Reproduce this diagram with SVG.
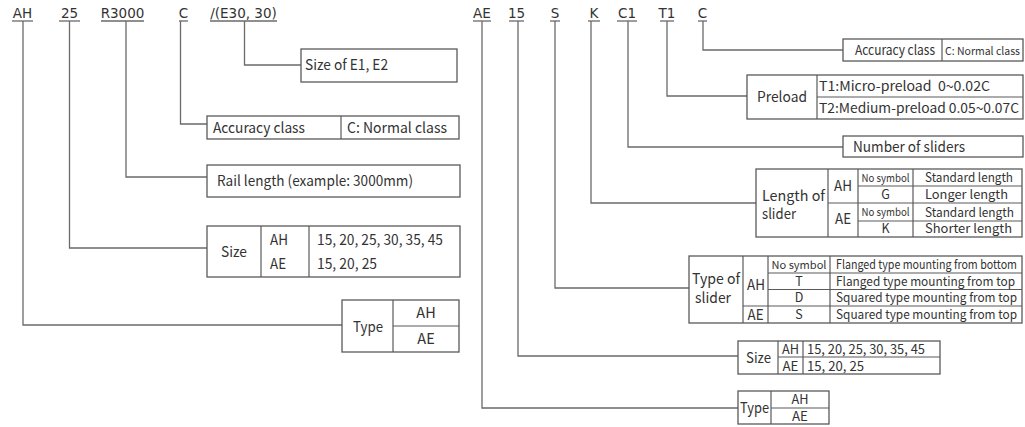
<svg xmlns="http://www.w3.org/2000/svg" width="1025" height="427" viewBox="0 0 1025 427">
<style>
.bg{fill:#ffffff}
.lbl{font-family:"DejaVu Sans",sans-serif;font-size:13.5px;fill:#333333;text-anchor:middle}
.ul{stroke:#6a6a6a;stroke-width:1.3}
.con{fill:none;stroke:#6a6a6a;stroke-width:1.3}
.box{fill:#ffffff;stroke:#5a5a5a;stroke-width:1.3}
.ln{stroke:#5a5a5a;stroke-width:1.2}
.t{font-family:"Noto Sans CJK SC","Noto Sans",sans-serif;font-size:14.5px;fill:#333333}
.r{font-family:"Noto Sans CJK SC","Noto Sans",sans-serif;font-size:13.5px;fill:#333333}
.s{font-family:"Noto Sans CJK SC","Noto Sans",sans-serif;font-size:12.5px;fill:#333333}
.xs{font-family:"Noto Sans CJK SC","Noto Sans",sans-serif;font-size:11px;fill:#333333}
.m{text-anchor:middle}
</style>
<rect class="bg" x="0" y="0" width="1025" height="427"/>

<g id="labels">
<text class="lbl" x="22.5" y="18">AH</text><line class="ul" x1="12" y1="21" x2="33" y2="21"/>
<text class="lbl" x="69.5" y="18">25</text><line class="ul" x1="59" y1="21" x2="80" y2="21"/>
<text class="lbl" x="122.5" y="18">R3000</text><line class="ul" x1="101" y1="21" x2="144" y2="21"/>
<text class="lbl" x="183.5" y="18">C</text><line class="ul" x1="179" y1="21" x2="188" y2="21"/>
<text class="lbl" x="243.5" y="18">/(E30, 30)</text><line class="ul" x1="210" y1="21" x2="277" y2="21"/>
<text class="lbl" x="482" y="18">AE</text><line class="ul" x1="473" y1="21" x2="491" y2="21"/>
<text class="lbl" x="516.5" y="18">15</text><line class="ul" x1="509" y1="21" x2="524" y2="21"/>
<text class="lbl" x="555" y="18">S</text><line class="ul" x1="550" y1="21" x2="560" y2="21"/>
<text class="lbl" x="594" y="18">K</text><line class="ul" x1="588" y1="21" x2="600" y2="21"/>
<text class="lbl" x="627" y="18">C1</text><line class="ul" x1="617" y1="21" x2="637" y2="21"/>
<text class="lbl" x="667" y="18">T1</text><line class="ul" x1="660" y1="21" x2="674" y2="21"/>
<text class="lbl" x="702.5" y="18">C</text><line class="ul" x1="698" y1="21" x2="707" y2="21"/>
</g>

<g id="connectors">
<path class="con" d="M23 21 V325 H342"/>
<path class="con" d="M69.5 21 V248 H207"/>
<path class="con" d="M126 21 V177 H207"/>
<path class="con" d="M180.5 21 V124 H207"/>
<path class="con" d="M244.5 21 V65 H301"/>
<path class="con" d="M482 21 V408 H738"/>
<path class="con" d="M518 21 V356 H738"/>
<path class="con" d="M555 21 V288 H689"/>
<path class="con" d="M591 21 V203 H756"/>
<path class="con" d="M628 21 V147 H843"/>
<path class="con" d="M667 21 V96 H747"/>
<path class="con" d="M703 21 V50 H843"/>
</g>

<g id="size-e1e2">
<rect class="box" x="301" y="49" width="156" height="33"/>
<text class="t" x="305" y="70" textLength="83" lengthAdjust="spacingAndGlyphs">Size of E1, E2</text>
</g>

<g id="accuracy-left">
<rect class="box" x="207" y="116" width="252" height="23"/>
<line class="ln" x1="341" y1="116" x2="341" y2="139"/>
<text class="t" x="213" y="133" textLength="92" lengthAdjust="spacingAndGlyphs">Accuracy class</text>
<text class="t" x="347" y="133" textLength="100" lengthAdjust="spacingAndGlyphs">C: Normal class</text>
</g>

<g id="rail-length">
<rect class="box" x="207" y="165" width="253" height="32"/>
<text class="t" x="217" y="186" textLength="196" lengthAdjust="spacingAndGlyphs">Rail length (example: 3000mm)</text>
</g>

<g id="size-left">
<rect class="box" x="207" y="226" width="253" height="51"/>
<line class="ln" x1="261" y1="226" x2="261" y2="277"/>
<line class="ln" x1="309" y1="226" x2="309" y2="277"/>
<text class="t" x="221" y="257" textLength="26" lengthAdjust="spacingAndGlyphs">Size</text>
<text class="t" x="270" y="245" textLength="18" lengthAdjust="spacingAndGlyphs">AH</text>
<text class="t" x="270" y="269" textLength="16" lengthAdjust="spacingAndGlyphs">AE</text>
<text class="t" x="317" y="245" textLength="126" lengthAdjust="spacingAndGlyphs">15, 20, 25, 30, 35, 45</text>
<text class="t" x="317" y="269" textLength="60" lengthAdjust="spacingAndGlyphs">15, 20, 25</text>
</g>

<g id="type-left">
<rect class="box" x="342" y="300" width="117" height="52"/>
<line class="ln" x1="393" y1="300" x2="393" y2="352"/>
<line class="ln" x1="393" y1="326" x2="459" y2="326"/>
<text class="t" x="353" y="332" textLength="30" lengthAdjust="spacingAndGlyphs">Type</text>
<text class="t m" x="426" y="318">AH</text>
<text class="t m" x="426" y="344">AE</text>
</g>

<g id="accuracy-right">
<rect class="box" x="843" y="39" width="180" height="22"/>
<line class="ln" x1="942" y1="39" x2="942" y2="61"/>
<text class="r" x="855" y="55" textLength="80" lengthAdjust="spacingAndGlyphs">Accuracy class</text>
<text class="xs" x="945" y="55" textLength="75" lengthAdjust="spacingAndGlyphs">C: Normal class</text>
</g>

<g id="preload">
<rect class="box" x="747" y="75" width="276" height="44"/>
<line class="ln" x1="817" y1="75" x2="817" y2="119"/>
<line class="ln" x1="817" y1="97" x2="1023" y2="97"/>
<text class="t" x="757" y="102" textLength="50" lengthAdjust="spacingAndGlyphs">Preload</text>
<text class="r" x="819" y="91" textLength="171" lengthAdjust="spacingAndGlyphs" style="white-space:pre">T1:Micro-preload  0~0.02C</text>
<text class="r" x="819" y="113" textLength="200" lengthAdjust="spacingAndGlyphs">T2:Medium-preload 0.05~0.07C</text>
</g>

<g id="number-of-sliders">
<rect class="box" x="843" y="136" width="180" height="21"/>
<text class="t" x="853" y="152" textLength="112" lengthAdjust="spacingAndGlyphs">Number of sliders</text>
</g>

<g id="length-of-slider">
<rect class="box" x="756" y="169" width="266" height="68"/>
<line class="ln" x1="828" y1="169" x2="828" y2="237"/>
<line class="ln" x1="858" y1="169" x2="858" y2="237"/>
<line class="ln" x1="913" y1="169" x2="913" y2="237"/>
<line class="ln" x1="828" y1="203" x2="1022" y2="203"/>
<line class="ln" x1="858" y1="186" x2="1022" y2="186"/>
<line class="ln" x1="858" y1="221" x2="1022" y2="221"/>
<text class="t" x="762" y="201" textLength="63" lengthAdjust="spacingAndGlyphs">Length of</text>
<text class="t" x="762" y="219" textLength="34" lengthAdjust="spacingAndGlyphs">slider</text>
<text class="t" x="834" y="191" textLength="18" lengthAdjust="spacingAndGlyphs">AH</text>
<text class="t" x="835" y="224" textLength="16" lengthAdjust="spacingAndGlyphs">AE</text>
<text class="xs m" x="885.5" y="182" textLength="48" lengthAdjust="spacingAndGlyphs">No symbol</text>
<text class="s m" x="885.5" y="199">G</text>
<text class="xs m" x="885.5" y="216" textLength="48" lengthAdjust="spacingAndGlyphs">No symbol</text>
<text class="s m" x="885.5" y="233">K</text>
<text class="s" x="925" y="182" textLength="88" lengthAdjust="spacingAndGlyphs">Standard length</text>
<text class="s" x="925" y="199" textLength="83" lengthAdjust="spacingAndGlyphs">Longer length</text>
<text class="s" x="925" y="217" textLength="89" lengthAdjust="spacingAndGlyphs">Standard length</text>
<text class="s" x="925" y="233" textLength="87" lengthAdjust="spacingAndGlyphs">Shorter length</text>
</g>

<g id="type-of-slider">
<rect class="box" x="689" y="256" width="333" height="67"/>
<line class="ln" x1="743" y1="256" x2="743" y2="323"/>
<line class="ln" x1="768" y1="256" x2="768" y2="323"/>
<line class="ln" x1="830" y1="256" x2="830" y2="323"/>
<line class="ln" x1="768" y1="273" x2="1022" y2="273"/>
<line class="ln" x1="768" y1="289.5" x2="1022" y2="289.5"/>
<line class="ln" x1="743" y1="306" x2="1022" y2="306"/>
<text class="t" x="692" y="284" textLength="48" lengthAdjust="spacingAndGlyphs">Type of</text>
<text class="t" x="695" y="303" textLength="36" lengthAdjust="spacingAndGlyphs">slider</text>
<text class="t" x="747" y="290" textLength="18" lengthAdjust="spacingAndGlyphs">AH</text>
<text class="t" x="747.5" y="320" textLength="16" lengthAdjust="spacingAndGlyphs">AE</text>
<text class="xs m" x="799" y="269" textLength="55" lengthAdjust="spacingAndGlyphs">No symbol</text>
<text class="s m" x="799" y="286">T</text>
<text class="s m" x="799" y="302">D</text>
<text class="s m" x="799" y="319">S</text>
<text class="s" x="836" y="269" textLength="181" lengthAdjust="spacingAndGlyphs">Flanged type mounting from bottom</text>
<text class="s" x="836" y="286" textLength="179" lengthAdjust="spacingAndGlyphs">Flanged type mounting from top</text>
<text class="s" x="836" y="302" textLength="181" lengthAdjust="spacingAndGlyphs">Squared type mounting from top</text>
<text class="s" x="836" y="319" textLength="181" lengthAdjust="spacingAndGlyphs">Squared type mounting from top</text>
</g>

<g id="size-right">
<rect class="box" x="738" y="341" width="202" height="33"/>
<line class="ln" x1="778" y1="341" x2="778" y2="374"/>
<line class="ln" x1="803" y1="341" x2="803" y2="374"/>
<line class="ln" x1="778" y1="357" x2="940" y2="357"/>
<text class="t" x="746" y="363" textLength="25" lengthAdjust="spacingAndGlyphs">Size</text>
<text class="r" x="782" y="354" textLength="17" lengthAdjust="spacingAndGlyphs">AH</text>
<text class="r" x="782.5" y="371" textLength="16" lengthAdjust="spacingAndGlyphs">AE</text>
<text class="r" x="807" y="354" textLength="118" lengthAdjust="spacingAndGlyphs">15, 20, 25, 30, 35, 45</text>
<text class="r" x="807" y="371" textLength="57" lengthAdjust="spacingAndGlyphs">15, 20, 25</text>
</g>

<g id="type-right">
<rect class="box" x="738" y="391" width="91" height="33"/>
<line class="ln" x1="771" y1="391" x2="771" y2="424"/>
<line class="ln" x1="771" y1="408" x2="829" y2="408"/>
<text class="t" x="740" y="413" textLength="29" lengthAdjust="spacingAndGlyphs">Type</text>
<text class="r" x="791.5" y="404" textLength="17" lengthAdjust="spacingAndGlyphs">AH</text>
<text class="r" x="792" y="421" textLength="16" lengthAdjust="spacingAndGlyphs">AE</text>
</g>
</svg>
